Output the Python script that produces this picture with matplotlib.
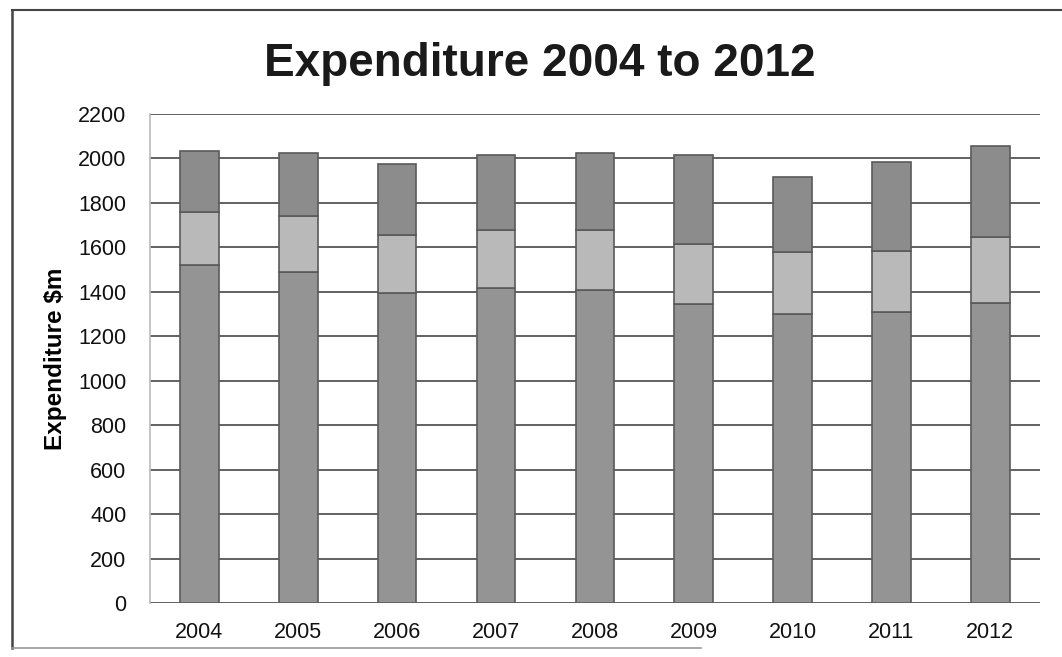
import numpy as np
import matplotlib
matplotlib.use("Agg")
import matplotlib.pyplot as plt
from matplotlib.lines import Line2D

plt.rcParams['font.family'] = ['Liberation Sans', 'DejaVu Sans']

# values ($m)
years = ["2004", "2005", "2006", "2007", "2008", "2009", "2010", "2011", "2012"]
bottom_part = [1520, 1490, 1395, 1415, 1410, 1345, 1300, 1310, 1350]
middle_part = [240, 250, 260, 265, 270, 270, 280, 275, 295]
top_part = [275, 285, 320, 335, 345, 400, 335, 400, 410]

fig = plt.figure(figsize=(10.62, 6.57), dpi=100)
ax = fig.add_axes([0.1412, 0.0822, 0.8378, 0.7443])

x = np.arange(len(years))
w = 0.39
edge = "#5a5a5a"

ax.bar(x, bottom_part, width=w, color="#949494", edgecolor=edge, linewidth=1.2, zorder=3)
mid_base = np.array(bottom_part)
ax.bar(x, middle_part, width=w, bottom=mid_base, color="#b9b9b9", edgecolor=edge, linewidth=1.2, zorder=3)
top_base = mid_base + np.array(middle_part)
ax.bar(x, top_part, width=w, bottom=top_base, color="#8c8c8c", edgecolor=edge, linewidth=1.2, zorder=3)

ax.set_xlim(-0.5, len(years) - 0.5)
ax.set_ylim(0, 2200)
ax.set_yticks(range(0, 2201, 200))
ax.set_xticks(x)
ax.set_xticklabels(years)
ax.tick_params(axis="both", length=0, labelsize=15.5, colors="#111111")
ax.tick_params(axis="y", pad=17)
ax.tick_params(axis="x", pad=14)

ax.grid(axis="y", color="#555555", linewidth=1.3, zorder=0)
ax.set_axisbelow(True)
for side in ["top", "right", "bottom"]:
    ax.spines[side].set_visible(False)
ax.spines["left"].set_color("#bbbbbb")
ax.spines["left"].set_linewidth(1.2)

ax.set_ylabel("Expenditure $m", fontsize=17.5, fontweight="bold", labelpad=8)
fig.text(0.508, 0.903, "Expenditure 2004 to 2012", fontsize=33, fontweight="bold",
         ha="center", va="center", color="#1a1a1a")

# outer frame of the scanned chart
fig.add_artist(Line2D([0.011, 1.0], [0.985, 0.985], transform=fig.transFigure, color="#444444", linewidth=1.5))
fig.add_artist(Line2D([0.011, 0.011], [0.013, 0.985], transform=fig.transFigure, color="#444444", linewidth=1.8))
fig.add_artist(Line2D([0.011, 0.66], [0.013, 0.013], transform=fig.transFigure, color="#999999", linewidth=1.2))

fig.savefig("out.png", dpi=100)
